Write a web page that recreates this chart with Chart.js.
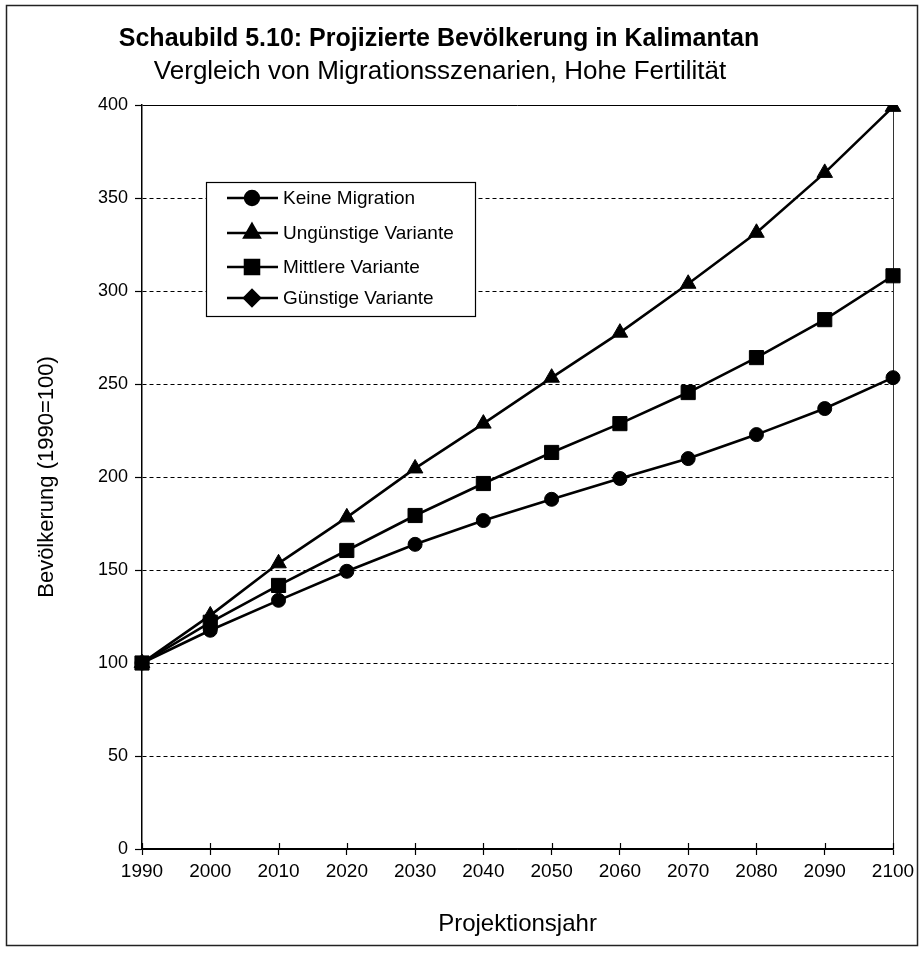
<!DOCTYPE html>
<html lang="de">
<head>
<meta charset="utf-8">
<title>Schaubild 5.10: Projizierte Bevölkerung in Kalimantan</title>
<script src="https://cdn.jsdelivr.net/npm/chart.js@4.4.1/dist/chart.umd.min.js"></script>
<style>
  html, body { margin: 0; padding: 0; background: #fff; }
  #wrap { position: relative; width: 922px; height: 957px; }
</style>
</head>
<body>
<div id="wrap"><canvas id="chart"></canvas></div>
<script>
// Projektionsjahre
const years = ['1990', '2000', '2010', '2020', '2030', '2040', '2050', '2060', '2070', '2080', '2090', '2100'];

// Bevölkerung, Index 1990 = 100
const keineMigration = [100, 117.6, 133.7, 149.3, 163.8, 176.6, 188.0, 199.2, 209.9, 222.8, 236.8, 253.4];
const unguenstigeVariante = [100, 125.6, 153.6, 178.3, 204.6, 228.7, 253.4, 277.6, 303.9, 331.3, 363.5, 399.0];
const mittlereVariante = [100, 121.9, 141.7, 160.5, 179.3, 196.5, 213.2, 228.7, 245.4, 264.2, 284.6, 308.2];
const guenstigeVariante = [null, null, null, null, null, null, null, null, null, null, null, null];

const seriesNames = ['Keine Migration', 'Ungünstige Variante', 'Mittlere Variante', 'Günstige Variante'];
const yTicks = [0, 50, 100, 150, 200, 250, 300, 350, 400];

const chartTitle = 'Schaubild 5.10: Projizierte Bevölkerung in Kalimantan';
const chartSubtitle = 'Vergleich von Migrationsszenarien, Hohe Fertilität';

const FONT = '"Liberation Sans", Arial, Helvetica, sans-serif';

function series(label, data, style, radius) {
  return {
    label: label,
    data: data,
    borderColor: '#000',
    backgroundColor: '#000',
    borderWidth: 2.6,
    pointStyle: style,
    pointRadius: radius,
    pointHoverRadius: radius,
    pointBackgroundColor: '#000',
    pointBorderColor: '#000',
    pointBorderWidth: 1,
    tension: 0,
    spanGaps: false
  };
}

// Überschrift und Untertitel über dem Diagramm
const headingPlugin = {
  id: 'heading',
  afterDraw(chart) {
    const { ctx } = chart;
    ctx.save();
    ctx.fillStyle = '#000';
    ctx.textAlign = 'center';
    ctx.textBaseline = 'middle';
    ctx.font = 'bold 25px ' + FONT;
    ctx.fillText(chartTitle, 439, 39);
    ctx.font = '26px ' + FONT;
    ctx.fillText(chartSubtitle, 440, 72);
    ctx.restore();
  }
};

// Rahmen um die ganze Abbildung, Plotrahmen und kurze Striche nach innen an der x-Achse
const framePlugin = {
  id: 'frame',
  beforeDatasetsDraw(chart) {
    const { ctx, chartArea: a, scales } = chart;
    ctx.save();
    ctx.strokeStyle = '#333';
    ctx.lineWidth = 1;
    ctx.beginPath();
    ctx.moveTo(a.right + 0.5, a.top);
    ctx.lineTo(a.right + 0.5, a.bottom);
    ctx.stroke();
    ctx.strokeStyle = '#000';
    ctx.lineWidth = 1.2;
    const xs = scales.x;
    xs.ticks.forEach((t, i) => {
      const px = Math.round(xs.getPixelForTick(i)) + 0.5;
      ctx.beginPath();
      ctx.moveTo(px, a.bottom - 6);
      ctx.lineTo(px, a.bottom);
      ctx.stroke();
    });
    ctx.restore();
  },
  afterDraw(chart) {
    const { ctx } = chart;
    ctx.save();
    ctx.strokeStyle = '#222';
    ctx.lineWidth = 1.5;
    ctx.strokeRect(6.5, 5.5, 911, 940);
    ctx.restore();
  }
};

// Legende im Diagrammfeld
const boxLegend = {
  id: 'boxLegend',
  afterDatasetsDraw(chart) {
    const { ctx, chartArea: a } = chart;
    const x0 = a.left + 64, y0 = a.top + 77, w = 269, h = 134;
    ctx.save();
    ctx.fillStyle = '#fff';
    ctx.fillRect(x0, y0, w, h);
    ctx.strokeStyle = '#000';
    ctx.lineWidth = 1.2;
    ctx.strokeRect(x0 + 0.5, y0 + 0.5, w, h);
    const rows = [16, 51, 85, 116];
    chart.data.datasets.forEach((ds, i) => {
      const y = y0 + rows[i];
      ctx.strokeStyle = '#000';
      ctx.lineWidth = 2.4;
      ctx.beginPath();
      ctx.moveTo(x0 + 21, y);
      ctx.lineTo(x0 + 72, y);
      ctx.stroke();
      ctx.fillStyle = '#000';
      Chart.helpers.drawPoint(ctx, {
        pointStyle: ds.pointStyle,
        radius: ds.pointRadius,
        rotation: 0,
        borderWidth: 1
      }, x0 + 46, y);
      ctx.fillStyle = '#000';
      ctx.font = '19px ' + FONT;
      ctx.textBaseline = 'middle';
      ctx.textAlign = 'left';
      ctx.fillText(ds.label, x0 + 77, y + 1);
    });
    ctx.restore();
  }
};

new Chart(document.getElementById('chart'), {
  type: 'line',
  data: {
    labels: years,
    datasets: [
      series(seriesNames[0], keineMigration, 'circle', 7),
      series(seriesNames[1], unguenstigeVariante, 'triangle', 9),
      series(seriesNames[2], mittlereVariante, 'rect', 10),
      series(seriesNames[3], guenstigeVariante, 'rectRot', 8)
    ]
  },
  options: {
    responsive: true,
    maintainAspectRatio: false,
    animation: false,
    devicePixelRatio: 1,
    layout: { padding: { top: 105, left: 0, right: 29, bottom: 0 } },
    plugins: {
      legend: { display: false },
      tooltip: { enabled: false },
      title: { display: false },
      subtitle: { display: false }
    },
    scales: {
      x: {
        type: 'category',
        offset: false,
        afterFit(scale) { scale.height = 108; },
        grid: {
          drawOnChartArea: false,
          drawTicks: true,
          tickLength: 6,
          tickColor: '#000',
          tickWidth: 1.2
        },
        border: { display: true, color: '#000', width: 1.5 },
        ticks: {
          color: '#000',
          font: { family: FONT, size: 19 },
          padding: 5,
          maxRotation: 0,
          autoSkip: false
        },
        title: {
          display: true,
          text: 'Projektionsjahr',
          color: '#000',
          font: { family: FONT, size: 24 },
          padding: { top: 0, bottom: 18 }
        }
      },
      y: {
        min: 0,
        max: 400,
        afterFit(scale) { scale.width = 142; },
        afterBuildTicks(scale) { scale.ticks = yTicks.map(v => ({ value: v })); },
        grid: {
          color: '#000',
          lineWidth: 1,
          tickLength: 7,
          tickColor: '#000',
          tickWidth: 1.2
        },
        border: {
          display: true,
          color: '#000',
          width: 1.5,
          dash: (ctx) => (ctx.tick && (ctx.tick.value === 400 || ctx.tick.value === 0)) ? [] : [4, 3]
        },
        ticks: {
          color: '#000',
          font: { family: FONT, size: 18 },
          padding: 7
        },
        title: {
          display: true,
          text: 'Bevölkerung (1990=100)',
          color: '#000',
          font: { family: FONT, size: 22 },
          padding: { top: 34, bottom: 0 }
        }
      }
    }
  },
  plugins: [framePlugin, boxLegend, headingPlugin]
});
</script>
</body>
</html>
